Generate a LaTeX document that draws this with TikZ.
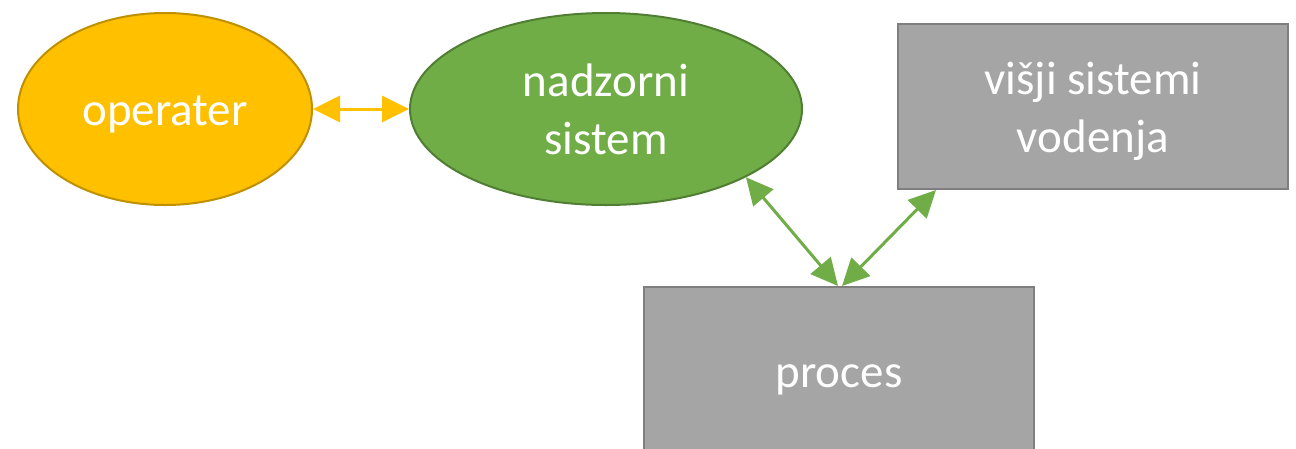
\documentclass[tikz,border=0pt]{standalone}
\usepackage{fontspec}
\setmainfont{Carlito}
\usetikzlibrary{shapes.geometric,arrows.meta}
\definecolor{gold}{HTML}{FFC000}
\definecolor{golddark}{HTML}{BF9000}
\definecolor{grn}{HTML}{70AD47}
\definecolor{grndark}{HTML}{507E32}
\definecolor{gry}{HTML}{A5A5A5}
\definecolor{grydark}{HTML}{7F7F7F}
\newcommand{\tx}[1]{\raisebox{-5pt}[\height][\depth]{\begin{tabular}{@{}c@{}}#1\end{tabular}}}
\tikzset{
  lbl/.style={text=white, font=\fontsize{47}{58}\selectfont, inner sep=0pt},
  oval/.style={ellipse, lbl, line width=2pt},
  box/.style={rectangle, lbl, line width=2pt, fill=gry, draw=grydark},
  conn/.style={line width=3pt, {Triangle[length=27pt,width=26pt]}-{Triangle[length=27pt,width=26pt]}},
}
\begin{document}
\begin{tikzpicture}[x=1pt,y=-1pt]
\useasboundingbox (0,0) rectangle (1296,448);
\clip (0,0) rectangle (1296,448);
\node[oval, fill=gold, draw=golddark, minimum width=294pt, minimum height=192pt] (op) at (165,109) {\tx{operater}};
\node[oval, fill=grn, draw=grndark, minimum width=392pt, minimum height=192pt] (nad) at (606,109) {\tx{nadzorni\\sistem}};
\node[box, minimum width=390pt, minimum height=165pt] (vis) at (1093,106.5) {\tx{višji sistemi\\vodenja}};
\node[box, minimum width=390pt, minimum height=168pt] (proc) at (839,371) {\tx{proces}};
\coordinate (visb) at ([xshift=39pt]vis.south west);
\coordinate (procl) at ([xshift=-1pt]proc.north);
\coordinate (procr) at ([xshift=3pt]proc.north);
\draw[conn, draw=gold, fill=gold] (op.east) -- (nad.west);
\draw[conn, draw=grn, fill=grn] (nad.-26.7) -- (procl);
\draw[conn, draw=grn, fill=grn] (procr) -- (visb);
\end{tikzpicture}
\end{document}
